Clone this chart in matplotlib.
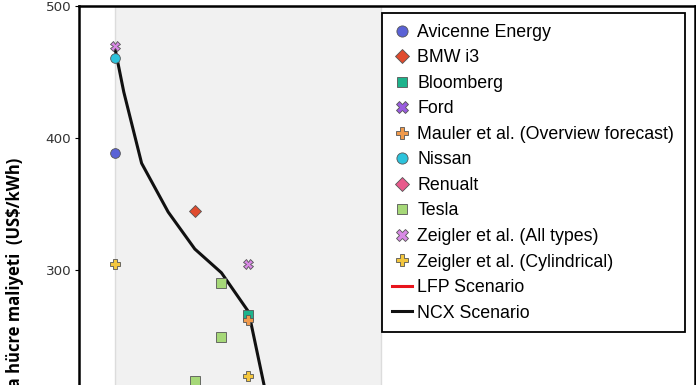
import matplotlib
matplotlib.use("Agg")
import matplotlib.pyplot as plt

# scattered cost points (year, US$/kWh)
avicenne_x = [2010]
avicenne_y = [389]
bmw_x = [2013]
bmw_y = [345]
bloomberg_x = [2015]
bloomberg_y = [266]
ford_x = []
ford_y = []
mauler_x = [2015]
mauler_y = [262]
nissan_x = [2010]
nissan_y = [461]
renault_x = []
renault_y = []
tesla_x = [2014, 2014, 2013]
tesla_y = [290, 249, 216]
zeigler_all_x = [2010, 2015]
zeigler_all_y = [470, 305]
zeigler_cyl_x = [2010, 2015]
zeigler_cyl_y = [305, 220]

# scenario lines
lfp_years = []
lfp_cost = []
ncx_years = [2010, 2010.33, 2011, 2012, 2013, 2014, 2015, 2015.1, 2016]
ncx_cost = [468, 435, 381, 344, 316, 298, 269, 261, 175]

series = [
    ("Avicenne Energy", avicenne_x, avicenne_y, "o", "#5a62d6", 7),
    ("BMW i3", bmw_x, bmw_y, "D", "#e04b2e", 6),
    ("Bloomberg", bloomberg_x, bloomberg_y, "s", "#1db38c", 6.5),
    ("Ford", ford_x, ford_y, "X", "#9a5ce0", 7),
    ("Mauler et al. (Overview forecast)", mauler_x, mauler_y, "P", "#f09a4c", 7),
    ("Nissan", nissan_x, nissan_y, "o", "#2cc3dc", 7),
    ("Renualt", renault_x, renault_y, "D", "#e85a8c", 6),
    ("Tesla", tesla_x, tesla_y, "s", "#a6d878", 6.5),
    ("Zeigler et al. (All types)", zeigler_all_x, zeigler_all_y, "X", "#d98ae6", 7),
    ("Zeigler et al. (Cylindrical)", zeigler_cyl_x, zeigler_cyl_y, "P", "#f3c63e", 7),
]

fig = plt.figure(figsize=(6.96, 3.85), dpi=100)
ax = fig.add_axes([0.1135, -0.730, 0.885, 1.714])

ax.axvspan(2010, 2020, facecolor="#f1f1f1", edgecolor="#dcdcdc", lw=1, zorder=0)

for name, xs, ys, mk, col, ms in series:
    ax.plot(xs, ys, linestyle="none", marker=mk, markersize=ms,
            markerfacecolor=col, markeredgecolor="#555555", markeredgewidth=0.6,
            label=name, zorder=3)

ax.plot(lfp_years, lfp_cost, color="#e8141c", lw=2.2, label="LFP Scenario", zorder=2)
ax.plot(ncx_years, ncx_cost, color="#111111", lw=2.2, label="NCX Scenario", zorder=2)

ax.set_xlim(2008.647, 2031.8)
ax.set_ylim(0, 500)
ax.set_yticks([0, 100, 200, 300, 400, 500])
ax.tick_params(axis="y", length=3, pad=2.5, labelsize=9.7, labelcolor="#333333")
for s in ["left", "top", "right", "bottom"]:
    ax.spines[s].set_linewidth(1.8)
    ax.spines[s].set_color("black")

ylab = ax.set_ylabel("Batarya hücre maliyeti  (US$/kWh)", fontsize=12,
                     fontweight="bold", family="Open Sans")

# place the label so that its upper end sits like in the source picture
fig.canvas.draw()
bb = ylab.get_window_extent()
L = bb.height
top_px = 385 - 158
ax_bb = ax.get_window_extent()
yc = (top_px - L / 2 - ax_bb.y0) / ax_bb.height
ax.yaxis.set_label_coords(-0.09, yc)

leg = ax.legend(loc="upper right", bbox_to_anchor=(0.984, 0.966),
                bbox_transform=fig.transFigure, borderaxespad=0,
                frameon=True, fancybox=False, framealpha=1, edgecolor="black",
                prop={"family": "Liberation Sans", "size": 12.8},
                handlelength=1.1, handletextpad=0.3, labelspacing=0.48,
                borderpad=0.6, markerscale=1.15)
leg.get_frame().set_linewidth(1.3)

fig.savefig("out.png", dpi=100)
